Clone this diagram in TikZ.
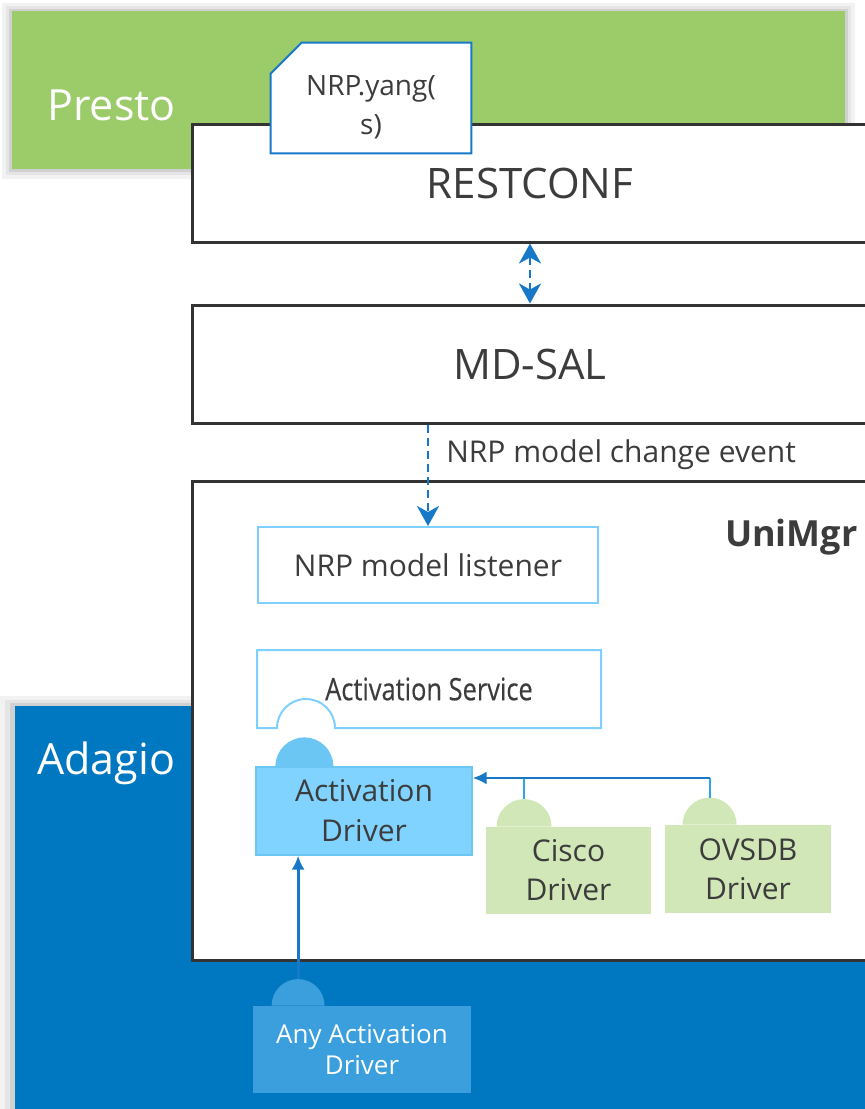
\documentclass[tikz,border=0pt]{standalone}
\usepackage{fontspec}
\setmainfont{Open Sans}
\newfontfamily\narrowfont{Open Sans}[FakeStretch=0.82,FakeBold=0.3]
\usepackage{tikz}
\usetikzlibrary{positioning,arrows.meta,backgrounds}
\definecolor{prestogreen}{HTML}{9CCB69}
\definecolor{adagioblue}{HTML}{0077C1}
\definecolor{linkblue}{HTML}{1878C8}
\definecolor{stubblue}{HTML}{2EA6E6}
\definecolor{paleblue}{HTML}{7FCFFF}
\definecolor{drvblue}{HTML}{80D2FF}
\definecolor{drvbump}{HTML}{6CC6F4}
\definecolor{drvgreen}{HTML}{D2E7B7}
\definecolor{anyblue}{HTML}{3A9FDC}
\definecolor{txtgray}{HTML}{3C3C3C}
\definecolor{boxline}{HTML}{333333}
\tikzset{
  layer/.style={draw=boxline, line width=1.5pt, fill=white, minimum width=338pt,
    minimum height=59pt, text=txtgray, font=\fontsize{21}{25}\selectfont},
  region/.style={inner sep=0pt, draw=none},
  tag/.style={inner sep=0pt, text=white, font=\fontsize{21.5}{25}\selectfont},
  part/.style={draw=paleblue, line width=1pt, minimum width=170pt, minimum height=38pt,
    text=txtgray, font=\fontsize{15}{18}\selectfont},
  driver/.style={align=center, inner sep=0pt, text=txtgray, font=\fontsize{15}{19.5}\selectfont},
  event/.style={linkblue, line width=1.3pt, dash pattern=on 4pt off 2.5pt},
  evtip/.tip={Stealth[length=10pt,width=11pt,inset=3pt]},
  feed/.style={linkblue, line width=1.4pt, -{Latex[length=7pt,width=6.5pt]}},
}

\begin{document}
\begin{tikzpicture}[x=0.5pt, y=-0.5pt]
	\useasboundingbox (0,0) rectangle (865,1109);
	% the two hosting platforms
	\node(presto)[region, fill=prestogreen, minimum width=416.5pt, minimum height=79pt] at (428.5,90) {};
	\node(prestotag)[tag, anchor=base west] at (47,120) {Presto};
	\node(adagio)[region, fill=adagioblue, minimum width=432.5pt, minimum height=209.5pt] at (447.5,915.5) {};
	\node(adagiotag)[tag, anchor=base west] at (37,774) {Adagio};
	\begin{scope}[on background layer]
		\fill[black!5] ([shift={(-5pt,-5pt)}]presto.south west) rectangle ([shift={(5pt,4pt)}]presto.north east);
		\fill[black!10] ([shift={(-3pt,-3pt)}]presto.south west) rectangle ([shift={(3pt,2.5pt)}]presto.north east);
		\fill[black!18] ([shift={(-1.5pt,-1.5pt)}]presto.south west) rectangle ([shift={(1.5pt,1pt)}]presto.north east);
		\fill[black!5] ([xshift=-7.5pt]adagio.south west) rectangle ([yshift=5pt]adagio.north east);
		\fill[black!10] ([xshift=-5pt]adagio.south west) rectangle ([yshift=3pt]adagio.north east);
		\fill[black!18] ([xshift=-2.5pt]adagio.south west) rectangle ([yshift=1.5pt]adagio.north east);
	\end{scope}

	% controller layers
	\node(restconf)[layer] at (530,183) {RESTCONF};
	\node(mdsal)[layer, below=30pt of restconf] {MD-SAL};
	\node(unimgr)[layer, below=27.5pt of mdsal, minimum height=239.5pt] {};
	\node(unimgrtag)[anchor=base east, inner sep=0pt, text=txtgray,
		font=\bfseries\fontsize{18}{22}\selectfont] at (858,546) {UniMgr};

	% yang document
	\node(yang)[region, minimum width=100pt, minimum height=55pt] at (371,98) {};
	\filldraw[fill=white, draw=linkblue, line width=1pt] ([yshift=-15.5pt]yang.north west)
		-- ([xshift=15.5pt]yang.north west) -- (yang.north east) -- (yang.south east)
		-- (yang.south west) -- cycle;
	\node(yangtxt)[driver, font=\fontsize{14}{19.5}\selectfont] at ([yshift=-4.5pt]yang.center) {NRP.yang(\\s)};

	\draw[event, evtip-evtip] (restconf.south) -- (mdsal.north);

	% inside UniMgr
	\node(listener)[part] at (428,565) {NRP model listener};
	\draw[event, -evtip] (listener.north |- mdsal.south)
		-- node(evtlbl)[pos=.375, anchor=base west, xshift=8.5pt, inner sep=0pt, text=txtgray,
		font=\fontsize{15}{18}\selectfont]{NRP model change event} (listener.north);

	\node(actsvc)[part, draw=none, minimum width=171pt] at (429,689) {\narrowfont\fontsize{15.5}{18}\selectfont Activation Service};
	\draw[paleblue, line width=1pt] (actsvc.south east) -- ([xshift=39pt]actsvc.south west)
		arc[start angle=0, end angle=180, radius=14.5pt] -- (actsvc.south west)
		-- (actsvc.north west) -- (actsvc.north east) -- cycle;

	\node(actdrv)[driver, fill=drvblue, draw=drvbump, line width=.6pt, minimum width=108pt,
		minimum height=44pt, font=\fontsize{15}{20}\selectfont] at (364,811) {Activation\\Driver};
	\fill[drvbump] ([xshift=24.5pt]actdrv.north west) ++(14.5pt,0) arc[start angle=0, end angle=180, radius=14.5pt] -- cycle;

	\node(cisco)[driver, fill=drvgreen, minimum width=82.5pt, minimum height=43.5pt] at (568.5,870.5) {Cisco\\Driver};
	\fill[drvgreen] ([xshift=19.25pt]cisco.north west) ++(13.75pt,0) arc[start angle=0, end angle=180, radius=13.75pt] -- cycle;
	\coordinate(ciscopin) at ([xshift=19.25pt, yshift=13.75pt]cisco.north west);

	\node(ovsdb)[driver, fill=drvgreen, minimum width=83pt, minimum height=44pt] at (748,869) {OVSDB\\Driver};
	\fill[drvgreen] ([xshift=22.5pt]ovsdb.north west) ++(13.5pt,0) arc[start angle=0, end angle=180, radius=13.5pt] -- cycle;
	\coordinate(ovsdbpin) at ([xshift=22.5pt, yshift=13.5pt]ovsdb.north west);

	% the driver from outside
	\node(anydrv)[driver, fill=anyblue, text=white, minimum width=109pt, minimum height=43.5pt,
		font=\fontsize{13}{15.5}\selectfont] at (362,1049.5) {Any Activation\\Driver};
	\fill[anyblue] ([xshift=22.75pt]anydrv.north west) ++(13.25pt,0) arc[start angle=0, end angle=180, radius=13.25pt] -- cycle;
	\coordinate(anypin) at ([xshift=22.75pt, yshift=13.25pt]anydrv.north west);

	% plug-in connectors
	\coordinate(drvin) at ([yshift=16.5pt]actdrv.east);
	\draw[stubblue, line width=1.1pt] (ciscopin) -- (ciscopin |- drvin);
	\draw[stubblue, line width=1.1pt] (ovsdbpin) -- (ovsdbpin |- drvin);
	\draw[feed] (ovsdbpin |- drvin) -- (drvin);
	\draw[feed] (anypin) -- (anypin |- actdrv.south);
\end{tikzpicture}
\end{document}
